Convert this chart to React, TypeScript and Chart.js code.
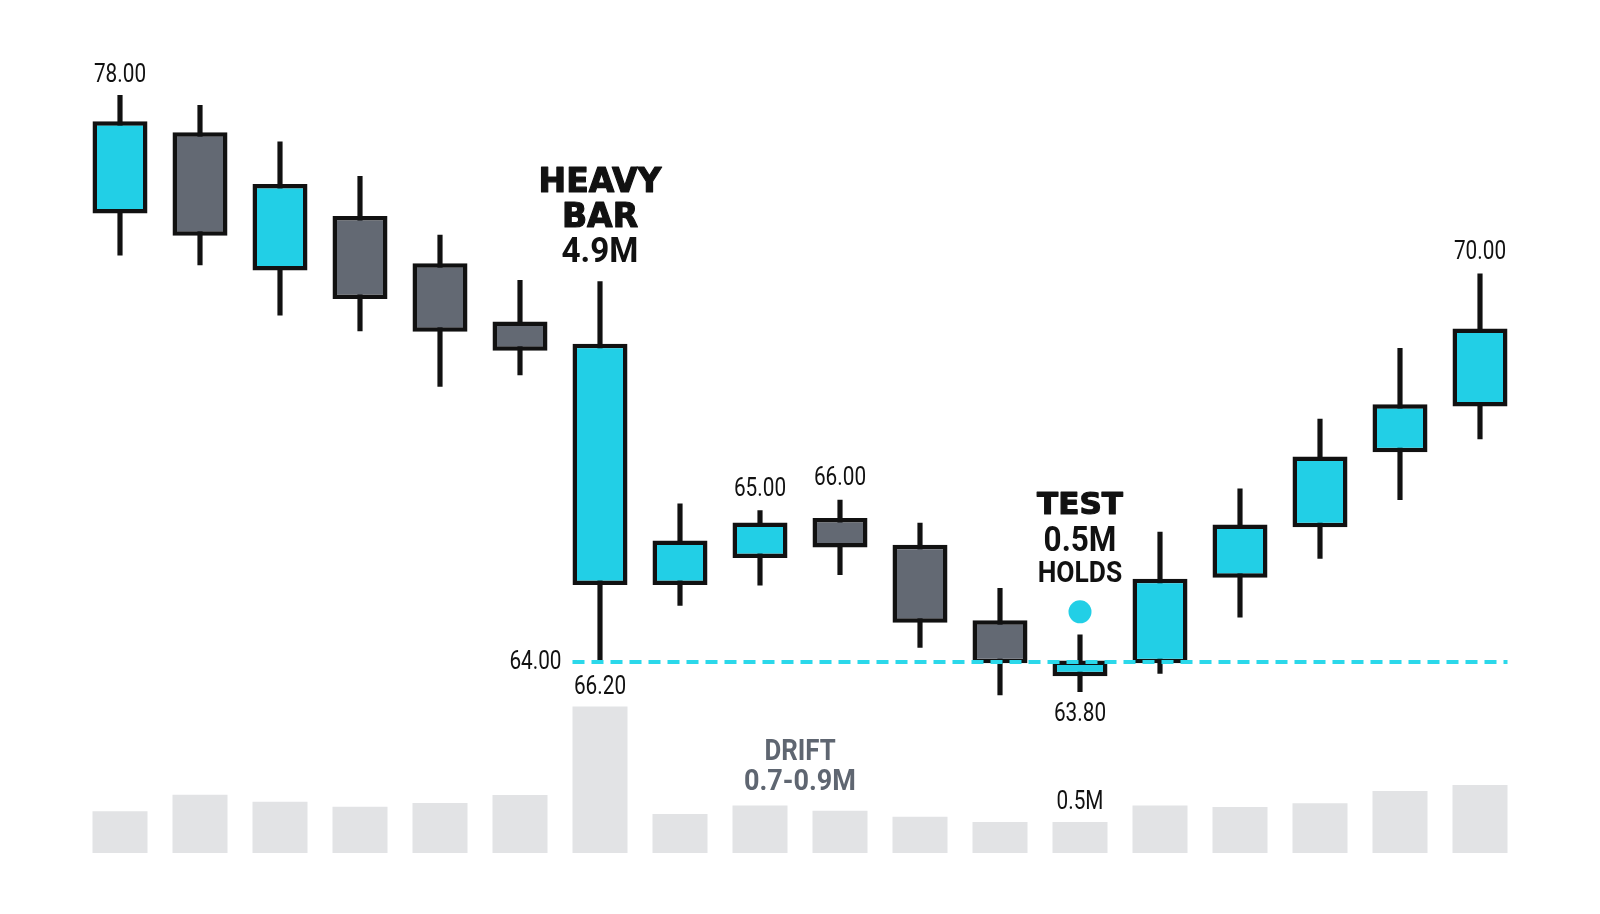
import { useEffect, useRef } from "react"
import { Chart, registerables, type Plugin } from "chart.js"

Chart.register(...registerables)

// 18 sessions, prices
const sessions = ["1", "2", "3", "4", "5", "6", "7", "8", "9", "10", "11", "12", "13", "14", "15", "16", "17", "18"]
const opens = [75.08, 77.09, 73.67, 75.02, 73.85, 72.41, 65.9, 65.9, 66.57, 67.56, 66.9, 65.03, 63.65, 63.97, 66.08, 67.33, 69.18, 70.31]
const highs = [78.0, 77.75, 76.85, 76.0, 74.55, 73.43, 73.4, 67.91, 67.74, 68.0, 67.43, 65.82, 64.67, 67.21, 68.28, 70.0, 71.75, 73.59]
const lows = [74.05, 73.81, 72.57, 72.18, 70.81, 71.09, 64.0, 65.4, 65.9, 66.16, 64.36, 63.19, 63.27, 63.72, 65.11, 66.56, 68.01, 69.51]
const closes = [77.36, 74.53, 75.81, 72.97, 72.16, 71.69, 71.86, 67.0, 67.45, 66.83, 64.97, 63.97, 64.04, 66.06, 67.4, 69.08, 70.37, 72.24]
// volume in millions
const volumes = [0.91, 1.54, 1.27, 1.08, 1.22, 1.53, 4.9, 0.8, 1.13, 0.93, 0.7, 0.5, 0.5, 1.13, 1.07, 1.21, 1.68, 1.91]
const VOLUME_BASE = -0.68

const SUPPORT = 64
const SUPPORT_FROM = 6
const TEST_INDEX = 12
const TEST_MARK = 65.24

const CYAN = "#22cfe6"
const GRAY = "#636973"
const INK = "#111111"
const NOTE = "#5f6671"

const WIDE = '"DejaVu Sans", Roboto, sans-serif'
const SANS = "Roboto, sans-serif"

const annotations: Plugin = {
  id: "annotations",
  afterDatasetsDraw(chart) {
    const { ctx } = chart
    const x = chart.scales.x
    const y = chart.scales.y
    const yVol = chart.scales.yVol
    const half = 27.5

    ctx.save()
    // support line
    const ly = y.getPixelForValue(SUPPORT)
    ctx.strokeStyle = "#2bd8ea"
    ctx.lineWidth = 4
    ctx.setLineDash([12, 7])
    ctx.beginPath()
    ctx.moveTo(x.getPixelForValue(SUPPORT_FROM) - half, ly)
    ctx.lineTo(x.getPixelForValue(sessions.length - 1) + half, ly)
    ctx.stroke()
    ctx.setLineDash([])

    ctx.textBaseline = "middle"
    const text = (
      s: string,
      px: number,
      py: number,
      font: string,
      sx = 1,
      color = INK,
      align: CanvasTextAlign = "center",
      heavy = 0
    ) => {
      ctx.save()
      ctx.translate(px, py)
      ctx.scale(sx, 1)
      ctx.font = font
      ctx.textAlign = align
      ctx.fillStyle = color
      ctx.fillText(s, 0, 0)
      if (heavy) {
        ctx.strokeStyle = color
        ctx.lineWidth = heavy
        ctx.lineJoin = "round"
        ctx.strokeText(s, 0, 0)
      }
      ctx.restore()
    }

    const num = `25px ${SANS}`
    // price labels
    text("78.00", x.getPixelForValue(0), y.getPixelForValue(highs[0]) - 20, num, 0.83)
    text("70.00", x.getPixelForValue(17), y.getPixelForValue(highs[17]) - 21, num, 0.83)
    text("65.00", x.getPixelForValue(8), y.getPixelForValue(highs[8]) - 21, num, 0.83)
    text("66.00", x.getPixelForValue(9), y.getPixelForValue(highs[9]) - 21, num, 0.83)
    text("66.20", x.getPixelForValue(6), y.getPixelForValue(lows[6]) + 26, num, 0.83)
    text("63.80", x.getPixelForValue(12), y.getPixelForValue(lows[12]) + 23, num, 0.83)
    text("64.00", x.getPixelForValue(SUPPORT_FROM) - half - 11, ly + 1, num, 0.83, INK, "right")

    // heavy bar callout
    const hx = x.getPixelForValue(6)
    const hy = y.getPixelForValue(highs[6])
    text("HEAVY", hx, hy - 98, `bold 33px ${WIDE}`, 1, INK, "center", 1.2)
    text("BAR", hx, hy - 63, `bold 33px ${WIDE}`, 1, INK, "center", 1.2)
    text("4.9M", hx, hy - 28, `bold 35px ${SANS}`, 0.95)

    // test callout
    const tx = x.getPixelForValue(TEST_INDEX)
    const ty = y.getPixelForValue(TEST_MARK)
    text("TEST", tx, ty - 106, `bold 31px ${WIDE}`, 1, INK, "center", 1.2)
    text("0.5M", tx, ty - 70, `bold 35px ${SANS}`, 0.9)
    text("HOLDS", tx, ty - 37, `bold 30px ${SANS}`, 0.88)

    // volume notes
    const dx = (x.getPixelForValue(8) + x.getPixelForValue(9)) / 2
    const dy = yVol.getPixelForValue(volumes[8])
    text("DRIFT", dx, dy - 53, `bold 30px ${SANS}`, 0.86, NOTE)
    text("0.7-0.9M", dx, dy - 23, `bold 30px ${SANS}`, 0.9, NOTE)
    text("0.5M", x.getPixelForValue(12), yVol.getPixelForValue(volumes[12]) - 19, num, 0.83)
    ctx.restore()
  },
}

export default function App() {
  const canvasRef = useRef<HTMLCanvasElement>(null)
  const chartRef = useRef<Chart | null>(null)

  useEffect(() => {
    document.body.style.margin = "0"
    if (!canvasRef.current) return
    if (chartRef.current) chartRef.current.destroy()

    const bodyColors = opens.map((o, i) => (closes[i] >= o ? CYAN : GRAY))
    const testDot = sessions.map((_, i) => (i === TEST_INDEX ? TEST_MARK : null))

    chartRef.current = new Chart(canvasRef.current, {
      type: "bar",
      data: {
        labels: sessions,
        datasets: [
          {
            type: "bar",
            data: volumes,
            yAxisID: "yVol",
            base: VOLUME_BASE,
            backgroundColor: "#e2e3e5",
            barPercentage: 0.6875,
            categoryPercentage: 1,
            grouped: false,
            order: 4,
          },
          {
            type: "bar",
            data: lows.map((l, i) => [l, highs[i]]),
            yAxisID: "y",
            backgroundColor: INK,
            barThickness: 4.5,
            grouped: false,
            order: 3,
          },
          {
            type: "bar",
            data: opens.map((o, i) => [o, closes[i]]),
            yAxisID: "y",
            backgroundColor: bodyColors,
            borderColor: INK,
            borderWidth: 4.5,
            borderSkipped: false,
            barPercentage: 0.6875,
            categoryPercentage: 1,
            grouped: false,
            order: 2,
          },
          {
            type: "line",
            data: testDot,
            yAxisID: "y",
            showLine: false,
            pointRadius: 11.5,
            pointBackgroundColor: CYAN,
            pointBorderWidth: 0,
            order: 1,
          },
        ],
      } as any,
      options: {
        responsive: true,
        maintainAspectRatio: false,
        animation: false,
        events: [],
        layout: { padding: { left: 80, right: 80, top: 0, bottom: 0 } },
        plugins: {
          legend: { display: false },
          tooltip: { enabled: false },
        },
        scales: {
          x: { display: false, offset: true },
          y: { display: false, min: 58.06, max: 80.07 },
          yVol: { display: false, min: -2.566, max: 31.37 },
        },
      },
      plugins: [annotations],
    })

    return () => {
      if (chartRef.current) {
        chartRef.current.destroy()
        chartRef.current = null
      }
    }
  }, [])

  return (
    <div style={{ position: "relative", width: 1600, height: 914, background: "#ffffff" }}>
      <canvas ref={canvasRef} />
    </div>
  )
}
